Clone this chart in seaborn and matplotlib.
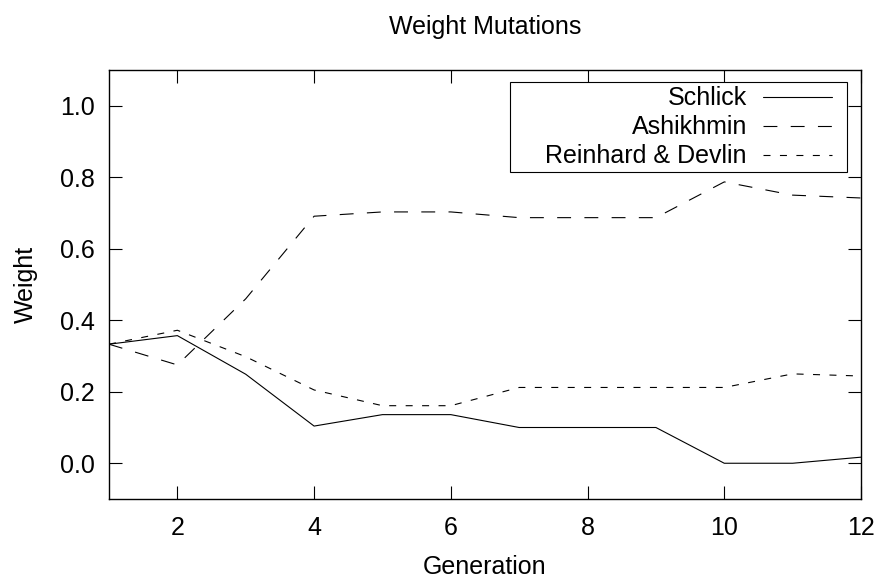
import pandas as pd
import numpy as np
import matplotlib.pyplot as plt
import seaborn as sns
from matplotlib.patches import Rectangle

generations = list(range(1, 13))
schlick = [0.333, 0.357, 0.249, 0.104, 0.136, 0.136, 0.100, 0.100, 0.100, 0.000, 0.000, 0.017]
ashikhmin = [0.333, 0.275, 0.460, 0.691, 0.703, 0.703, 0.687, 0.687, 0.687, 0.787, 0.750, 0.742]
reinhard = [0.333, 0.372, 0.298, 0.205, 0.161, 0.161, 0.212, 0.212, 0.212, 0.212, 0.250, 0.244]
methods = ['Schlick', 'Ashikhmin', 'Reinhard & Devlin']

sns.set_theme(style='ticks')
plt.rcParams['font.family'] = ['Liberation Sans', 'DejaVu Sans']
plt.rcParams['text.color'] = 'black'
plt.rcParams['axes.labelcolor'] = 'black'

df = pd.DataFrame({
    'Generation': generations * 3,
    'Weight': schlick + ashikhmin + reinhard,
    'Method': [m for m in methods for _ in generations],
})

fs = 18
fig = plt.figure(figsize=(8.8, 5.81), dpi=100)
ax = fig.add_axes([109 / 880, 1 - 499 / 581, 752 / 880, 429 / 581])

sns.lineplot(data=df, x='Generation', y='Weight', style='Method', color='black',
             dashes={'Schlick': '', 'Ashikhmin': (12.5, 12), 'Reinhard & Devlin': (6.3, 8.5)},
             linewidth=0.8, ax=ax, legend=False)

ax.set_xlim(1, 12)
ax.set_ylim(-0.1, 1.1)
ax.set_xticks([2, 4, 6, 8, 10, 12])
ax.set_yticks([0.0, 0.2, 0.4, 0.6, 0.8, 1.0])
ax.set_yticklabels(['0.0', '0.2', '0.4', '0.6', '0.8', '1.0'])
ax.tick_params(direction='in', length=9.5, width=0.8, top=True, right=True,
               labelsize=fs, colors='black')
ax.tick_params(axis='x', pad=12)
ax.tick_params(axis='y', pad=10)
for s in ax.spines.values():
    s.set_color('black')
    s.set_linewidth(1.0)

ax.set_xlabel('Generation', fontsize=fs, labelpad=11)
ax.set_ylabel('Weight', fontsize=fs, labelpad=16)
ax.set_title('Weight Mutations', fontsize=fs, pad=26, color='black')

# legend box drawn separately, gnuplot style (wide sides, tight top/bottom)
ax.add_patch(Rectangle((0.533, 0.762), 0.981 - 0.533, 0.972 - 0.762, transform=ax.transAxes,
                       fill=True, facecolor='white', edgecolor='black', linewidth=0.8, zorder=4))
handles = ax.get_lines()[:3]
leg = ax.legend(handles, methods, loc='upper right', bbox_to_anchor=(0.9614, 0.962),
                markerfirst=False, fontsize=fs, frameon=False,
                handlelength=2.76, handletextpad=0.64,
                labelspacing=0.2, borderaxespad=0, borderpad=0)
leg.set_zorder(5)
for t in leg.get_texts():
    t.set_ha('right')
    t.set_color('black')
leg._legend_box.align = 'right'

fig.savefig('out.png', dpi=100)
